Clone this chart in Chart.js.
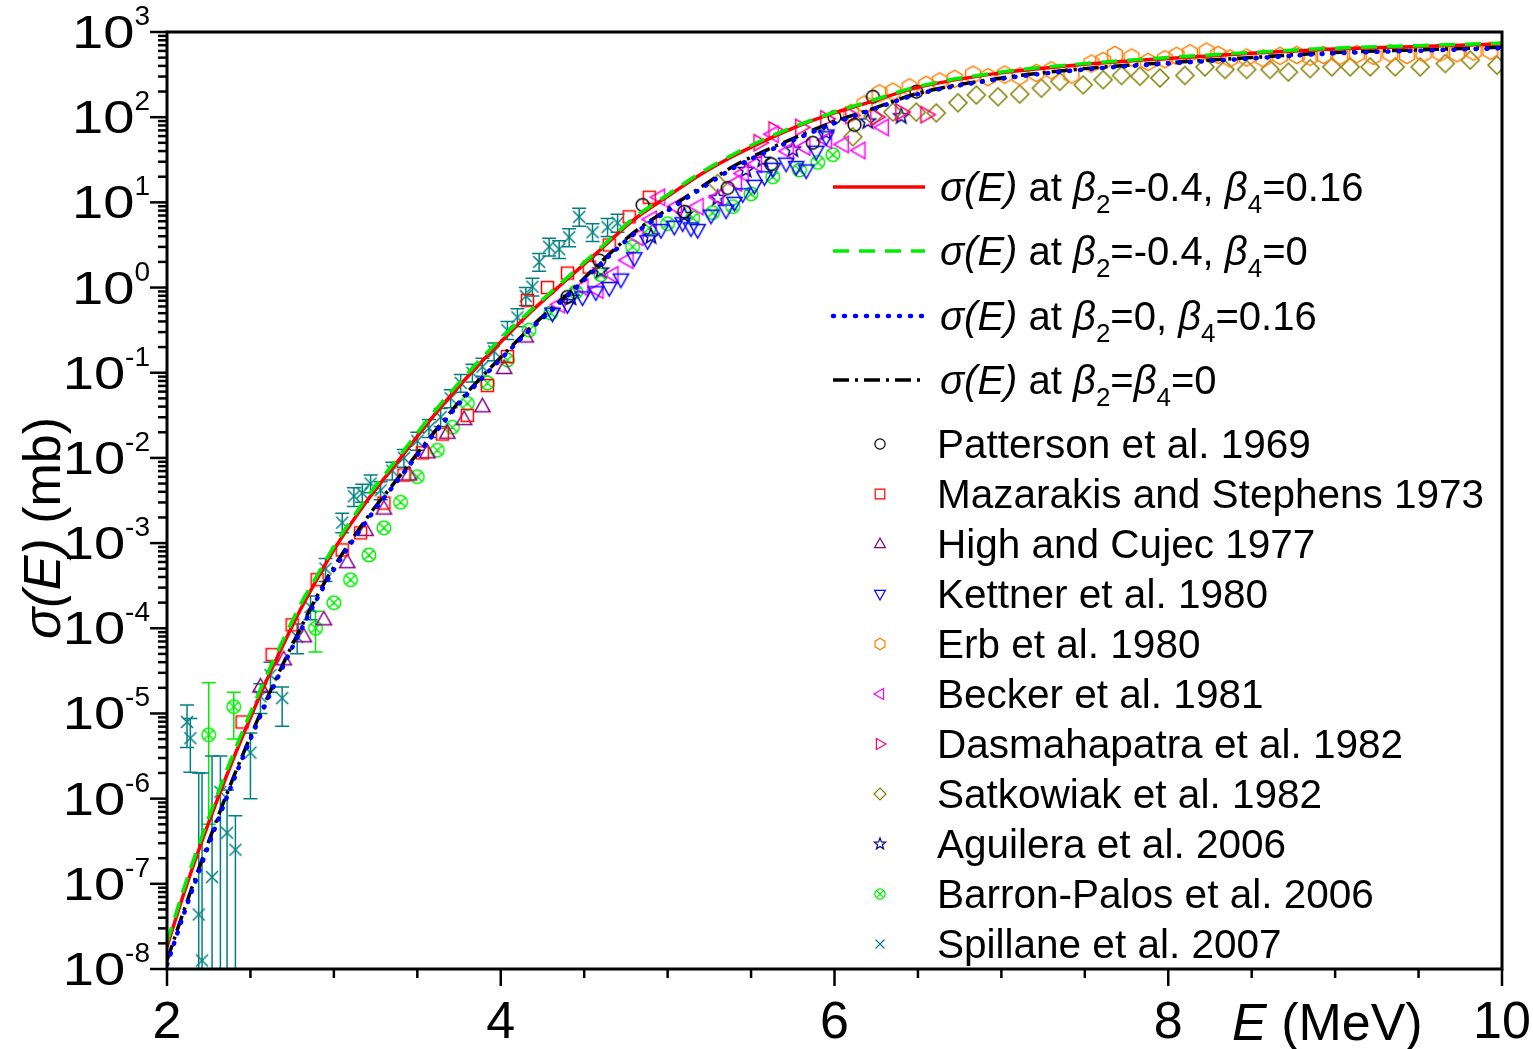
<!DOCTYPE html>
<html>
<head>
<meta charset="utf-8">
<script src="https://cdn.jsdelivr.net/npm/chart.js@4.4.0/dist/chart.umd.min.js"></script>
<style>
  html, body { margin: 0; padding: 0; background: #fff; }
</style>
</head>
<body>
<canvas id="c" width="1533" height="1049"></canvas>
<script>
// all cross sections are given as log10(sigma / mb)

// model curves
var curveE = [2.0,2.1,2.2,2.3,2.4,2.5,2.6,2.7,2.8,2.9,3.0,3.2,3.4,3.6,3.8,4.0,4.2,4.4,4.6,4.8,5.0,5.2,5.4,5.6,5.8,6.0,6.2,6.5,7.0,7.5,8.0,8.5,9.0,9.5,10.0];
var redLog   = [-7.74,-7.12,-6.55,-6.02,-5.52,-5.05,-4.60,-4.18,-3.78,-3.42,-3.08,-2.50,-2.00,-1.50,-1.05,-0.64,-0.25,0.10,0.45,0.80,1.07,1.33,1.55,1.74,1.91,2.05,2.17,2.35,2.52,2.62,2.69,2.75,2.80,2.83,2.86];
var greenLog = [-7.69,-7.06,-6.49,-5.96,-5.46,-4.99,-4.54,-4.12,-3.72,-3.38,-3.04,-2.46,-1.96,-1.46,-1.01,-0.60,-0.23,0.12,0.47,0.82,1.09,1.35,1.57,1.76,1.92,2.06,2.18,2.36,2.53,2.63,2.70,2.76,2.81,2.84,2.87];
var blueLog  = [-7.95,-7.36,-6.81,-6.28,-5.78,-5.30,-4.85,-4.43,-4.03,-3.65,-3.31,-2.73,-2.22,-1.72,-1.25,-0.84,-0.45,-0.10,0.28,0.63,0.90,1.16,1.41,1.60,1.77,1.93,2.07,2.27,2.45,2.56,2.63,2.69,2.75,2.78,2.81];
var blackLog = [-7.90,-7.32,-6.77,-6.24,-5.74,-5.27,-4.82,-4.40,-4.00,-3.62,-3.28,-2.70,-2.20,-1.70,-1.23,-0.82,-0.43,-0.08,0.30,0.65,0.92,1.18,1.43,1.62,1.79,1.95,2.08,2.28,2.46,2.57,2.64,2.70,2.76,2.79,2.82];

// experiments
var pattersonE   = [4.40,4.59,4.85,5.10,5.36,5.62,5.87,6.00,6.12,6.23,6.49];
var pattersonLog = [-0.11,0.32,0.97,0.89,1.17,1.45,1.70,2.00,1.91,2.24,2.30];

var mazarakisE   = [2.45,2.63,2.75,2.90,3.05,3.16,3.30,3.42,3.53,3.65,3.80,3.92,4.04,4.16,4.28,4.40,4.53,4.65,4.77,4.89];
var mazarakisLog = [-5.10,-4.31,-3.96,-3.43,-3.08,-2.88,-2.53,-2.20,-1.94,-1.72,-1.50,-1.15,-0.81,-0.15,0.00,0.17,0.24,0.50,0.83,1.06];

var highE   = [2.56,2.70,2.82,2.94,3.08,3.19,3.30,3.45,3.56,3.68,3.78,3.89,4.02,4.15];
var highLog = [-4.69,-4.37,-4.10,-3.90,-3.23,-2.85,-2.60,-2.20,-1.94,-1.71,-1.55,-1.40,-0.95,-0.58];

var kettnerE   = [4.31,4.40,4.49,4.57,4.65,4.72,4.80,4.88,4.96,5.04,5.09,5.14,5.18,5.26,5.35,5.40,5.45,5.52,5.58,5.63,5.71,5.77,5.83,5.89,5.95];
var kettnerLog = [-0.30,-0.20,-0.11,-0.05,0.00,0.10,0.35,0.55,0.68,0.72,0.76,0.70,0.68,0.85,0.91,1.00,1.10,1.20,1.30,1.40,1.46,1.42,1.38,1.60,1.77];

var erbE   = [6.10,6.18,6.27,6.35,6.45,6.55,6.63,6.72,6.83,6.92,7.02,7.11,7.21,7.30,7.42,7.54,7.61,7.68,7.78,7.88,7.98,8.05,8.13,8.23,8.30,8.37,8.47,8.57,8.67,8.77,8.85,8.93,9.03,9.13,9.23,9.33,9.43,9.53,9.63,9.73,9.83,9.93];
var erbLog = [2.05,2.15,2.28,2.30,2.35,2.38,2.42,2.45,2.50,2.47,2.50,2.48,2.52,2.55,2.50,2.63,2.66,2.73,2.70,2.65,2.68,2.72,2.75,2.77,2.73,2.69,2.70,2.69,2.72,2.73,2.71,2.73,2.72,2.74,2.72,2.75,2.73,2.75,2.76,2.75,2.77,2.78];

var beckerE   = [4.35,4.49,4.58,4.67,4.76,4.82,4.90,4.95,5.05,5.18,5.30,5.41,5.45,5.53,5.63,5.72,5.82,5.95,6.05,6.15,6.29];
var beckerLog = [-0.20,0.00,-0.03,0.15,0.32,0.59,0.80,1.06,0.95,0.95,1.06,1.23,1.34,1.45,1.80,1.60,1.65,1.73,1.68,1.61,1.88];

var dasmaE   = [5.55,5.64,5.80,5.95,6.10,6.25,6.40,6.55];
var dasmaLog = [1.70,1.85,1.88,1.98,2.02,2.00,2.06,2.03];

var satkoE   = [5.30,6.11,6.23,6.35,6.49,6.61,6.74,6.85,6.98,7.11,7.24,7.35,7.49,7.61,7.72,7.83,7.95,8.10,8.22,8.34,8.47,8.61,8.72,8.85,8.98,9.09,9.21,9.36,9.51,9.66,9.81,9.97];
var satkoLog = [1.22,1.77,2.01,2.06,2.06,2.05,2.17,2.26,2.24,2.27,2.34,2.42,2.38,2.44,2.49,2.48,2.46,2.49,2.59,2.56,2.56,2.56,2.53,2.57,2.59,2.59,2.59,2.59,2.59,2.63,2.67,2.61];

var aguileraE   = [4.42,4.60,4.90,5.10,5.30,5.47,5.57,5.75,5.95,6.20,6.40];
var aguileraLog = [-0.12,0.20,0.60,0.85,1.05,1.38,1.50,1.62,1.82,1.95,2.01];

var barronE     = [2.25,2.40,2.89,3.00,3.10,3.21,3.30,3.40,3.50,3.62,3.71,3.80,3.92,4.04,4.17,4.30,4.45,4.60,4.79,4.89,5.00,5.15,5.27,5.39,5.50,5.63,5.79,5.90,5.99];
var barronLog   = [-5.25,-4.92,-4.00,-3.70,-3.43,-3.14,-2.82,-2.52,-2.22,-1.91,-1.64,-1.36,-1.12,-0.85,-0.50,-0.30,-0.05,0.15,0.48,0.70,0.75,0.82,0.88,0.95,1.10,1.30,1.38,1.47,1.56];
var barronErrHi = [-4.64,-4.75,-3.80,null,null,null,null,null,null,null,null,null,null,null,null,null,null,null,null,null,null,null,null,null,null,null,null,null,null];
var barronErrLo = [-6.30,-5.30,-4.28,null,null,null,null,null,null,null,null,null,null,null,null,null,null,null,null,null,null,null,null,null,null,null,null,null,null];

var spillaneE     = [2.12,2.14,2.19,2.21,2.27,2.32,2.36,2.41,2.50,2.56,2.62,2.69,2.78,2.86,2.95,3.05,3.12,3.17,3.22,3.28,3.35,3.42,3.50,3.57,3.64,3.70,3.76,3.83,3.89,3.96,4.04,4.10,4.15,4.19,4.23,4.29,4.35,4.41,4.47,4.55,4.64,4.70];
var spillaneLog   = [-5.10,-5.29,-7.36,-7.90,-6.92,-5.92,-6.40,-6.60,-5.46,-4.80,-4.55,-4.82,-4.10,-3.75,-3.30,-2.76,-2.45,-2.41,-2.30,-2.38,-2.15,-2.00,-1.80,-1.65,-1.52,-1.30,-1.12,-1.00,-0.93,-0.75,-0.50,-0.35,-0.10,0.01,0.30,0.48,0.45,0.59,0.83,0.65,0.71,0.76];
var spillaneErrHi = [-4.90,-5.06,-5.70,-5.70,-5.50,-5.50,-5.90,-6.20,-5.23,-4.65,-4.40,-4.69,-3.95,-3.62,-3.18,-2.65,-2.35,-2.31,-2.20,-2.28,-2.05,-1.90,-1.70,-1.55,-1.42,-1.20,-1.02,-0.90,-0.83,-0.65,-0.40,-0.25,0.00,0.11,0.40,0.58,0.55,0.69,0.93,0.75,0.81,0.86];
var spillaneErrLo = [-5.40,-5.69,-9.00,-9.00,-9.00,-9.00,-9.00,-9.00,-6.00,-5.00,-4.75,-5.15,-4.30,-3.90,-3.45,-2.88,-2.57,-2.52,-2.41,-2.49,-2.26,-2.11,-1.91,-1.76,-1.63,-1.41,-1.23,-1.11,-1.04,-0.86,-0.61,-0.46,-0.21,-0.10,0.19,0.37,0.34,0.48,0.72,0.54,0.60,0.65];

// axis ticks
var xMajor = [2, 4, 6, 8, 10];
var xMinor = [2.5, 3, 3.5, 4.5, 5, 5.5, 6.5, 7, 7.5, 8.5, 9, 9.5];
var yExp = [-8, -7, -6, -5, -4, -3, -2, -1, 0, 1, 2, 3];
var yMinorMant = [2, 3, 4, 5, 6, 7, 8, 9];

var FONT = '"Liberation Sans", Arial, sans-serif';

function pts(es, logs) {
  return es.map(function(e, i) { return { x: e, y: Math.pow(10, logs[i]) }; });
}

// marker outlines, used both for the data and for the legend
function drawShape(g, kind, r, color, lw) {
  g.strokeStyle = color;
  g.lineWidth = lw;
  g.beginPath();
  var i, a;
  switch (kind) {
    case 'circle':
      g.arc(0, 0, r * 0.85, 0, Math.PI * 2);
      break;
    case 'square':
      g.rect(-r * 0.8, -r * 0.8, r * 1.6, r * 1.6);
      break;
    case 'triUp':
      g.moveTo(0, -r); g.lineTo(r * 0.9, r * 0.6); g.lineTo(-r * 0.9, r * 0.6); g.closePath();
      break;
    case 'triDown':
      g.moveTo(0, r); g.lineTo(r * 0.9, -r * 0.6); g.lineTo(-r * 0.9, -r * 0.6); g.closePath();
      break;
    case 'triLeft':
      g.moveTo(-r, 0); g.lineTo(r * 0.6, -r * 0.9); g.lineTo(r * 0.6, r * 0.9); g.closePath();
      break;
    case 'triRight':
      g.moveTo(r, 0); g.lineTo(-r * 0.6, -r * 0.9); g.lineTo(-r * 0.6, r * 0.9); g.closePath();
      break;
    case 'hexagon':
      for (i = 0; i < 6; i++) {
        a = -Math.PI / 2 + i * Math.PI / 3;
        if (i === 0) g.moveTo(r * 0.95 * Math.cos(a), r * 0.95 * Math.sin(a));
        else g.lineTo(r * 0.95 * Math.cos(a), r * 0.95 * Math.sin(a));
      }
      g.closePath();
      break;
    case 'diamond':
      g.moveTo(0, -r); g.lineTo(r, 0); g.lineTo(0, r); g.lineTo(-r, 0); g.closePath();
      break;
    case 'star':
      for (i = 0; i < 10; i++) {
        a = -Math.PI / 2 + i * Math.PI / 5;
        var rr = i % 2 ? r * 0.42 : r;
        if (i === 0) g.moveTo(rr * Math.cos(a), rr * Math.sin(a));
        else g.lineTo(rr * Math.cos(a), rr * Math.sin(a));
      }
      g.closePath();
      break;
    case 'circleX':
      g.arc(0, 0, r * 0.85, 0, Math.PI * 2);
      g.moveTo(-r * 0.6, -r * 0.6); g.lineTo(r * 0.6, r * 0.6);
      g.moveTo(r * 0.6, -r * 0.6); g.lineTo(-r * 0.6, r * 0.6);
      break;
    case 'cross':
      g.moveTo(-r * 0.75, -r * 0.75); g.lineTo(r * 0.75, r * 0.75);
      g.moveTo(r * 0.75, -r * 0.75); g.lineTo(-r * 0.75, r * 0.75);
      break;
  }
  g.stroke();
}

function markerImage(kind, color, size) {
  var c = document.createElement('canvas');
  c.width = c.height = size + 4;
  var g = c.getContext('2d');
  g.translate(c.width / 2, c.height / 2);
  drawShape(g, kind, size / 2, color, 1.5);
  return c;
}

// lower "order" is drawn later, i.e. on top
var curves = [
  { label: 'red',   logs: redLog,   color: '#ff0000', dash: [],            cap: 'butt',  width: 3.5, order: -2 },
  { label: 'green', logs: greenLog, color: '#00ee00', dash: [16, 10],      cap: 'butt',  width: 3.5, order: -3 },
  { label: 'blue',  logs: blueLog,  color: '#0000ff', dash: [1, 10],       cap: 'round', width: 4.5, order: -1 },
  { label: 'black', logs: blackLog, color: '#000000', dash: [16, 6, 3, 6], cap: 'butt',  width: 3.5, order: 0 }
];

var experiments = [
  { label: 'Patterson et al. 1969',        es: pattersonE, logs: pattersonLog, kind: 'circle',   color: '#000000', size: 15 },
  { label: 'Mazarakis and Stephens 1973',  es: mazarakisE, logs: mazarakisLog, kind: 'square',   color: '#ff0000', size: 15 },
  { label: 'High and Cujec 1977',          es: highE,      logs: highLog,      kind: 'triUp',    color: '#800080', size: 17 },
  { label: 'Kettner et al. 1980',          es: kettnerE,   logs: kettnerLog,   kind: 'triDown',  color: '#0000ff', size: 17 },
  { label: 'Erb et al. 1980',              es: erbE,       logs: erbLog,       kind: 'hexagon',  color: '#ff8000', size: 18 },
  { label: 'Becker et al. 1981',           es: beckerE,    logs: beckerLog,    kind: 'triLeft',  color: '#ff00ff', size: 18 },
  { label: 'Dasmahapatra et al. 1982',     es: dasmaE,     logs: dasmaLog,     kind: 'triRight', color: '#ff0080', size: 18 },
  { label: 'Satkowiak et al. 1982',        es: satkoE,     logs: satkoLog,     kind: 'diamond',  color: '#808000', size: 18 },
  { label: 'Aguilera et al. 2006',         es: aguileraE,  logs: aguileraLog,  kind: 'star',     color: '#000080', size: 16 },
  { label: 'Barron-Palos et al. 2006',     es: barronE,    logs: barronLog,    kind: 'circleX',  color: '#00ee00', size: 16,
    errHi: barronErrHi, errLo: barronErrLo },
  { label: 'Spillane et al. 2007',         es: spillaneE,  logs: spillaneLog,  kind: 'cross',    color: '#008080', size: 16,
    errHi: spillaneErrHi, errLo: spillaneErrLo }
];

var datasets = [];
curves.forEach(function(cv) {
  datasets.push({
    label: cv.label,
    data: pts(curveE, cv.logs),
    showLine: true,
    borderColor: cv.color,
    borderWidth: cv.width,
    borderDash: cv.dash,
    borderCapStyle: cv.cap,
    pointRadius: 0,
    cubicInterpolationMode: 'monotone',
    fill: false,
    order: cv.order
  });
});
experiments.forEach(function(ex) {
  datasets.push({
    label: ex.label,
    data: pts(ex.es, ex.logs),
    showLine: false,
    pointStyle: markerImage(ex.kind, ex.color, ex.size),
    pointRadius: ex.size / 2,
    borderColor: ex.color,
    errHi: ex.errHi,
    errLo: ex.errLo,
    order: 1
  });
});

var errorBars = {
  id: 'errorBars',
  beforeDatasetsDraw: function(chart) {
    var ctx = chart.ctx, a = chart.chartArea, xs = chart.scales.x, ys = chart.scales.y;
    ctx.save();
    ctx.beginPath();
    ctx.rect(a.left, a.top, a.right - a.left, a.bottom - a.top);
    ctx.clip();
    chart.data.datasets.forEach(function(ds) {
      if (!ds.errHi) return;
      ctx.strokeStyle = ds.borderColor;
      ctx.lineWidth = 1.5;
      ds.data.forEach(function(p, i) {
        if (ds.errHi[i] === null) return;
        var px = xs.getPixelForValue(p.x);
        var y1 = ys.getPixelForValue(Math.pow(10, ds.errHi[i]));
        var y2 = ys.getPixelForValue(Math.pow(10, ds.errLo[i]));
        ctx.beginPath();
        ctx.moveTo(px, y1); ctx.lineTo(px, y2);
        ctx.moveTo(px - 7, y1); ctx.lineTo(px + 7, y1);
        ctx.moveTo(px - 7, y2); ctx.lineTo(px + 7, y2);
        ctx.stroke();
      });
    });
    ctx.restore();
  }
};

function richWidth(ctx, parts, size) {
  var w = 0;
  parts.forEach(function(p) {
    var s = p.sub ? Math.round(size * 0.64) : size;
    ctx.font = (p.it ? 'italic ' : '') + s + 'px ' + FONT;
    w += ctx.measureText(p.t).width;
  });
  return w;
}

function drawRich(ctx, x, y, parts, size) {
  parts.forEach(function(p) {
    var s = p.sub ? Math.round(size * 0.64) : size;
    ctx.font = (p.it ? 'italic ' : '') + s + 'px ' + FONT;
    ctx.fillText(p.t, x, y + (p.sub ? size * 0.3 : 0));
    x += ctx.measureText(p.t).width;
  });
  return x;
}

var curveTexts = [
  [{ t: 'σ(E)', it: true }, { t: ' at ' }, { t: 'β', it: true }, { t: '2', sub: true }, { t: '=-0.4, ' }, { t: 'β', it: true }, { t: '4', sub: true }, { t: '=0.16' }],
  [{ t: 'σ(E)', it: true }, { t: ' at ' }, { t: 'β', it: true }, { t: '2', sub: true }, { t: '=-0.4, ' }, { t: 'β', it: true }, { t: '4', sub: true }, { t: '=0' }],
  [{ t: 'σ(E)', it: true }, { t: ' at ' }, { t: 'β', it: true }, { t: '2', sub: true }, { t: '=0, ' }, { t: 'β', it: true }, { t: '4', sub: true }, { t: '=0.16' }],
  [{ t: 'σ(E)', it: true }, { t: ' at ' }, { t: 'β', it: true }, { t: '2', sub: true }, { t: '=' }, { t: 'β', it: true }, { t: '4', sub: true }, { t: '=0' }]
];

var frameAndLegend = {
  id: 'frameAndLegend',
  afterDraw: function(chart) {
    var ctx = chart.ctx, a = chart.chartArea, xs = chart.scales.x, ys = chart.scales.y;
    ctx.save();
    ctx.fillStyle = '#000';
    ctx.strokeStyle = '#000';

    // frame
    ctx.lineWidth = 3;
    ctx.strokeRect(a.left, a.top, a.right - a.left, a.bottom - a.top);

    // y ticks and labels (the "10" is drawn a bit wide, like the original)
    ctx.lineWidth = 2.5;
    yExp.forEach(function(e) {
      var ty = ys.getPixelForValue(Math.pow(10, e));
      ctx.beginPath(); ctx.moveTo(a.left - 17, ty); ctx.lineTo(a.left, ty); ctx.stroke();
      if (e < 3) {
        yMinorMant.forEach(function(m) {
          var my = ys.getPixelForValue(m * Math.pow(10, e));
          ctx.beginPath(); ctx.moveTo(a.left - 9, my); ctx.lineTo(a.left, my); ctx.stroke();
        });
      }
      var expStr = String(e);
      ctx.textAlign = 'right';
      ctx.textBaseline = 'alphabetic';
      ctx.font = '28px ' + FONT;
      var ew = ctx.measureText(expStr).width;
      ctx.fillText(expStr, a.left - 17, ty - 7);
      ctx.save();
      ctx.translate(a.left - 17 - ew, ty + 16);
      ctx.scale(1.22, 1);
      ctx.font = '46px ' + FONT;
      ctx.fillText('10', 0, 0);
      ctx.restore();
    });

    // x ticks and labels
    xMajor.forEach(function(v) {
      var tx = xs.getPixelForValue(v);
      ctx.beginPath(); ctx.moveTo(tx, a.bottom); ctx.lineTo(tx, a.bottom + 17); ctx.stroke();
      ctx.textAlign = 'center';
      ctx.font = '52px ' + FONT;
      ctx.fillText(String(v), tx, a.bottom + 69);
    });
    xMinor.forEach(function(v) {
      var tx = xs.getPixelForValue(v);
      ctx.beginPath(); ctx.moveTo(tx, a.bottom); ctx.lineTo(tx, a.bottom + 9); ctx.stroke();
    });

    // axis titles
    ctx.textAlign = 'left';
    drawRich(ctx, 1232, 1040, [{ t: 'E', it: true }, { t: ' (MeV)' }], 52);
    ctx.save();
    ctx.translate(60, 528);
    ctx.rotate(-Math.PI / 2);
    var yt = [{ t: 'σ(E)', it: true }, { t: ' (mb)' }];
    drawRich(ctx, -richWidth(ctx, yt, 52) / 2, 0, yt, 52);
    ctx.restore();

    // legend: model curves
    var lineY = [187, 251, 316, 380];
    curves.forEach(function(cv, i) {
      ctx.save();
      ctx.strokeStyle = cv.color;
      ctx.lineWidth = cv.width;
      ctx.lineCap = cv.cap;
      ctx.setLineDash(cv.dash);
      ctx.beginPath(); ctx.moveTo(833, lineY[i]); ctx.lineTo(925, lineY[i]); ctx.stroke();
      ctx.restore();
      ctx.textAlign = 'left';
      drawRich(ctx, 940, lineY[i] + 14, curveTexts[i], 40);
    });

    // legend: experiments
    experiments.forEach(function(ex, i) {
      var ly = 444 + i * 50;
      ctx.save();
      ctx.translate(880, ly);
      drawShape(ctx, ex.kind, 6, ex.color, 1.2);
      ctx.restore();
      ctx.textAlign = 'left';
      ctx.font = '40.5px ' + FONT;
      ctx.fillText(ex.label, 937, ly + 14);
    });
    ctx.restore();
  }
};

new Chart(document.getElementById('c'), {
  type: 'scatter',
  data: { datasets: datasets },
  options: {
    responsive: false,
    animation: false,
    devicePixelRatio: 1,
    layout: { padding: { left: 167, top: 32, right: 31, bottom: 80 } },
    plugins: { legend: { display: false }, tooltip: { enabled: false } },
    scales: {
      x: { type: 'linear', min: 2, max: 10, display: false },
      y: { type: 'logarithmic', min: 1e-8, max: 1e3, display: false }
    }
  },
  plugins: [errorBars, frameAndLegend]
});
</script>
</body>
</html>
